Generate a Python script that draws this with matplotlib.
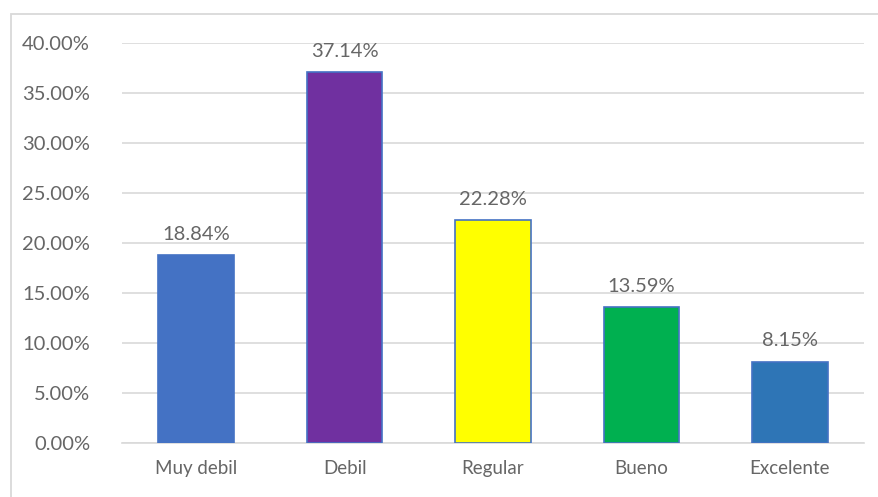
import matplotlib.pyplot as plt
from matplotlib.patches import Rectangle
from matplotlib.ticker import FuncFormatter, MultipleLocator

categories = ['Muy debil', 'Debil', 'Regular', 'Bueno', 'Excelente']
values = [18.84, 37.14, 22.28, 13.59, 8.15]
bar_colors = ['#4472C4', '#7030A0', '#FFFF00', '#00B050', '#2E75B6']

plt.rcParams['font.family'] = ['Lato', 'DejaVu Sans']
text_color = '#666666'
grid_color = '#D9D9D9'
fsize = 13.5
num_size = 14.5

fig = plt.figure(figsize=(8.79, 4.97), dpi=100)
W, H = 879, 497

# chart area border (open on right and bottom)
fig.patches.append(Rectangle((10.5 / W, -0.1), 1.0, (H - 13.5) / H + 0.1,
                             transform=fig.transFigure, fill=False,
                             edgecolor=grid_color, linewidth=1.3))

ax = fig.add_axes([122 / W, (H - 443) / H, (864 - 122) / W, 400 / H])

x = range(len(categories))
bars = ax.bar(x, values, width=0.51, color=bar_colors,
              edgecolor='#4472C4', linewidth=1.2, zorder=3)

for b, v in zip(bars, values):
    ax.text(b.get_x() + b.get_width() / 2, v + 1.2, f'{v:.2f}%',
            ha='center', va='bottom', fontsize=num_size, color=text_color)

ax.set_xlim(-0.5, len(categories) - 0.5)
ax.set_ylim(0, 40)
ax.yaxis.set_major_locator(MultipleLocator(5))
ax.yaxis.set_major_formatter(FuncFormatter(lambda v, p: f'{v:.2f}%'))
ax.set_xticks(list(x))
ax.set_xticklabels(categories)

ax.grid(axis='y', color=grid_color, linewidth=1.2, zorder=0)
for s in ['top', 'right', 'left']:
    ax.spines[s].set_visible(False)
ax.spines['bottom'].set_color(grid_color)
ax.spines['bottom'].set_linewidth(1.2)
ax.tick_params(axis='both', length=0, labelcolor=text_color)
ax.tick_params(axis='x', labelsize=fsize, pad=12)
ax.tick_params(axis='y', labelsize=num_size, pad=23)

fig.savefig('out.png', dpi=100)
